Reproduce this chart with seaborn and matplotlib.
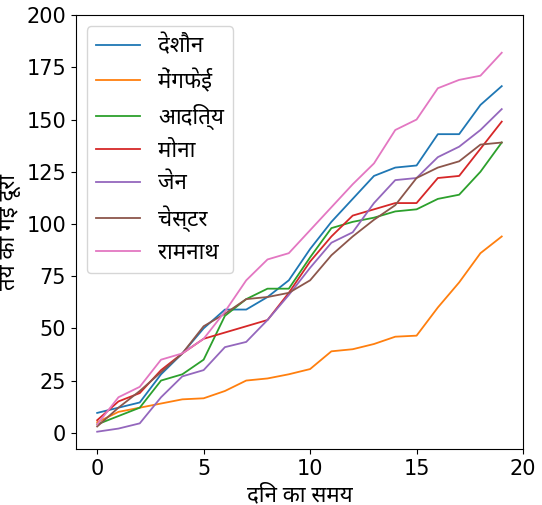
import matplotlib
matplotlib.use("Agg")
import matplotlib.pyplot as plt
import seaborn as sns
import pandas as pd
from matplotlib import font_manager

days = list(range(20))
names = ["देशौन", "मेंगफेई", "आदित्य", "मोना", "जेन", "चेस्टर", "रामनाथ"]
deshaun = [9.5, 12, 14.5, 28, 38, 50, 59, 59, 65, 73, 88, 101, 112, 123, 127, 128, 143, 143, 157, 166]
mengfei = [5, 10, 12, 14, 16, 16.5, 20, 25, 26, 28, 30.5, 39, 40, 42.5, 46, 46.5, 60, 72, 86, 94]
aditya = [4, 8, 12, 25, 28, 35, 56, 64, 69, 69, 84, 98, 101, 103, 106, 107, 112, 114, 125, 139]
mona = [6, 15, 19, 30, 38, 45, 48, 51, 54, 67, 82, 94, 104, 107, 110, 110, 122, 123, 136, 149]
jane = [0.5, 2, 4.5, 17, 27, 30, 41, 43.5, 54, 66, 79, 91, 96, 110, 121, 122, 132, 137, 145, 155]
chester = [3, 12, 20, 29, 38, 51, 57, 64, 65, 67, 73, 85, 94, 102, 109, 122, 127, 130, 138, 139]
ramnath = [4, 17, 22, 35, 38, 45, 58, 73, 83, 86, 97, 108, 119, 129, 145, 150, 165, 169, 171, 182]
series = [deshaun, mengfei, aditya, mona, jane, chester, ramnath]

avail = {f.name for f in font_manager.fontManager.ttflist}
fams = [f for f in ["Noto Sans Devanagari", "Lohit Devanagari", "Mukta", "Noto Sans", "DejaVu Sans"] if f in avail] or ["DejaVu Sans"]
plt.rcParams['font.family'] = fams
plt.rcParams['font.size'] = 15

rows = []
for n, s in zip(names, series):
    for d, v in zip(days, s):
        rows.append({"day": d, "dist": v, "name": n})
df = pd.DataFrame(rows)

fig, ax = plt.subplots(figsize=(5.42, 5.05), dpi=100)
sns.lineplot(data=df, x="day", y="dist", hue="name", hue_order=names,
             palette=sns.color_palette("tab10")[:7], ax=ax, linewidth=1.3)
ax.set_xlim(-1, 20)
ax.set_ylim(-8, 200)
ax.set_xticks([0, 5, 10, 15, 20])
ax.set_xlabel("दिन का समय", fontsize=16)
ax.set_ylabel("तय की गई दूरी", fontsize=16)
ax.tick_params(labelsize=15)
for lab in ax.get_xticklabels() + ax.get_yticklabels():
    lab.set_family("DejaVu Sans")
ax.legend(loc="upper left", fontsize=16, title=None)
fig.subplots_adjust(left=0.14, right=0.965, top=0.97, bottom=0.11)
fig.savefig("out.png", dpi=100)
